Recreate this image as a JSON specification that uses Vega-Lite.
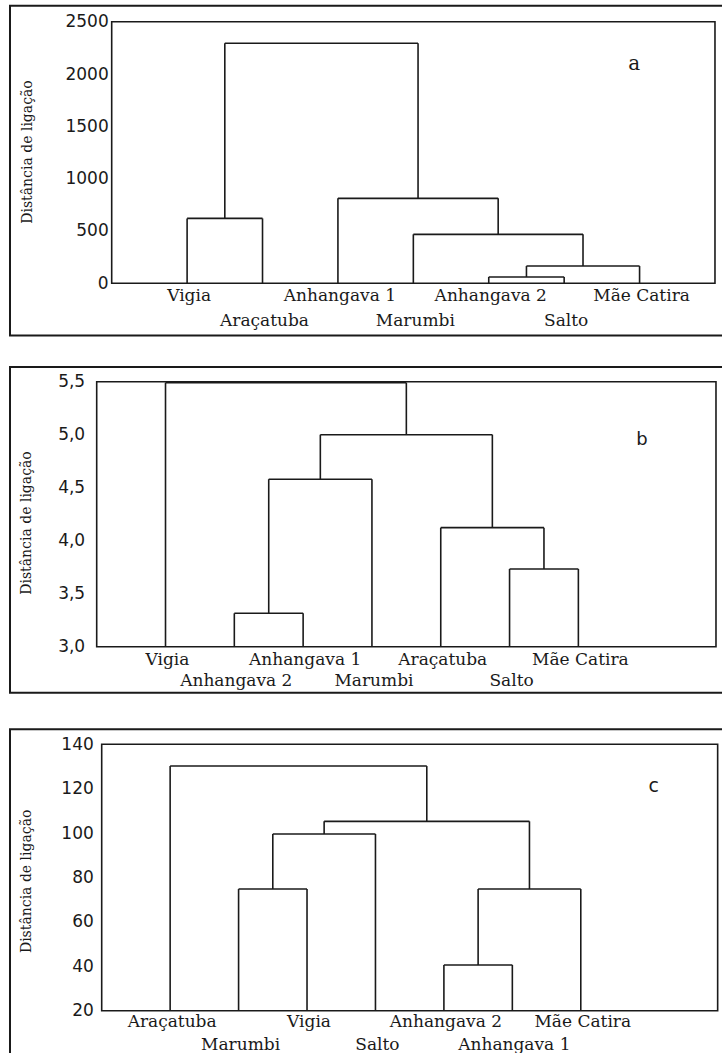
{
  "$schema": "https://vega.github.io/schema/vega-lite/v6.json",
  "background": "white",
  "padding": {"left": 8, "top": 4, "right": 0, "bottom": 0},
  "config": {"view": {"stroke": null}, "text": {"color": "#1a1a1a"}},
  "datasets": {
    "a_merges": [
      {"left": 1, "right": 2, "hl": 0, "hr": 0, "h": 620},
      {"left": 5, "right": 6, "hl": 0, "hr": 0, "h": 60},
      {"left": 5.5, "right": 7, "hl": 60, "hr": 0, "h": 165},
      {"left": 4, "right": 6.25, "hl": 0, "hr": 165, "h": 468},
      {"left": 3, "right": 5.125, "hl": 0, "hr": 468, "h": 812},
      {"left": 1.5, "right": 4.0625, "hl": 620, "hr": 812, "h": 2294}
    ],
    "a_leaves": [
      {"pos": 1, "name": "Vigia"}, {"pos": 2, "name": "Araçatuba"}, {"pos": 3, "name": "Anhangava 1"},
      {"pos": 4, "name": "Marumbi"}, {"pos": 5, "name": "Anhangava 2"}, {"pos": 6, "name": "Salto"},
      {"pos": 7, "name": "Mãe Catira"}
    ],
    "b_merges": [
      {"left": 2, "right": 3, "hl": 3, "hr": 3, "h": 3.315},
      {"left": 2.5, "right": 4, "hl": 3.315, "hr": 3, "h": 4.58},
      {"left": 6, "right": 7, "hl": 3, "hr": 3, "h": 3.733},
      {"left": 5, "right": 6.5, "hl": 3, "hr": 3.733, "h": 4.123},
      {"left": 3.25, "right": 5.75, "hl": 4.58, "hr": 4.123, "h": 5.0},
      {"left": 1, "right": 4.5, "hl": 3, "hr": 5.0, "h": 5.49}
    ],
    "b_leaves": [
      {"pos": 1, "name": "Vigia"}, {"pos": 2, "name": "Anhangava 2"}, {"pos": 3, "name": "Anhangava 1"},
      {"pos": 4, "name": "Marumbi"}, {"pos": 5, "name": "Araçatuba"}, {"pos": 6, "name": "Salto"},
      {"pos": 7, "name": "Mãe Catira"}
    ],
    "c_merges": [
      {"left": 2, "right": 3, "hl": 20, "hr": 20, "h": 74.8},
      {"left": 2.5, "right": 4, "hl": 74.8, "hr": 20, "h": 99.6},
      {"left": 5, "right": 6, "hl": 20, "hr": 20, "h": 40.6},
      {"left": 5.5, "right": 7, "hl": 40.6, "hr": 20, "h": 74.8},
      {"left": 3.25, "right": 6.25, "hl": 99.6, "hr": 74.8, "h": 105.3},
      {"left": 1, "right": 4.75, "hl": 20, "hr": 105.3, "h": 130.2}
    ],
    "c_leaves": [
      {"pos": 1, "name": "Araçatuba"}, {"pos": 2, "name": "Marumbi"}, {"pos": 3, "name": "Vigia"},
      {"pos": 4, "name": "Salto"}, {"pos": 5, "name": "Anhangava 2"}, {"pos": 6, "name": "Anhangava 1"},
      {"pos": 7, "name": "Mãe Catira"}
    ]
  },
  "vconcat": [
    {
      "spacing": 27,
      "vconcat": [
        {
          "width": 714, "height": 334,
          "resolve": {"axis": {"y": "independent", "x": "independent"}},
          "layer": [
            {"data": {"values": [{}]},
             "mark": {"type": "rect", "fill": null, "stroke": "#1a1a1a", "strokeWidth": 2, "clip": true},
             "encoding": {
               "x": {"datum": -1.3486, "type": "quantitative", "scale": {"domain": [-1.3751, 8.0931], "nice": false, "zero": false}, "axis": null},
               "x2": {"datum": 9},
               "y": {"datum": 2652.9, "type": "quantitative", "scale": {"domain": [-522.75, 2669.15], "nice": false, "zero": false},
                     "axis": {"orient": "left", "values": [0, 500, 1000, 1500, 2000, 2500], "format": "d", "offset": -103.7, "domain": false, "ticks": false, "tickSize": 0, "grid": false,
                              "labelPadding": 3.5, "labelFont": "DejaVu Sans", "labelFontSize": 17, "labelColor": "#1a1a1a", "labelOverlap": false, "labelFlush": false,
                              "title": "Distância de ligação", "titleFont": "DejaVu Serif", "titleFontSize": 14, "titleFontWeight": "normal", "titleColor": "#1a1a1a",
                              "titleAngle": -90, "titleX": -84.7, "titleY": 147.5, "titleAlign": "center", "titleBaseline": "middle", "zindex": 1}},
               "y2": {"datum": -498.9}
             }},
            {"data": {"values": [{}]},
             "mark": {"type": "rect", "fill": null, "stroke": "#1a1a1a", "strokeWidth": 1.6},
             "encoding": {
               "x": {"datum": 0, "type": "quantitative", "axis": null},
               "x2": {"datum": 8},
               "y": {"datum": 0, "type": "quantitative", "axis": null},
               "y2": {"datum": 2500}
             }},
            {"data": {"name": "a_merges"},
             "mark": {"type": "rule", "stroke": "#1a1a1a", "strokeWidth": 1.6},
             "encoding": {"x": {"field": "left", "type": "quantitative", "axis": null}, "x2": {"field": "right"}, "y": {"field": "h", "type": "quantitative", "axis": null}}},
            {"data": {"name": "a_merges"},
             "mark": {"type": "rule", "stroke": "#1a1a1a", "strokeWidth": 1.6},
             "encoding": {"x": {"field": "left", "type": "quantitative", "axis": null}, "y": {"field": "hl", "type": "quantitative", "axis": null}, "y2": {"field": "h"}}},
            {"data": {"name": "a_merges"},
             "mark": {"type": "rule", "stroke": "#1a1a1a", "strokeWidth": 1.6},
             "encoding": {"x": {"field": "right", "type": "quantitative", "axis": null}, "y": {"field": "hr", "type": "quantitative", "axis": null}, "y2": {"field": "h"}}},
            {"data": {"name": "a_leaves"}, "transform": [{"filter": "datum.pos % 2 == 1"}],
             "mark": {"type": "text", "font": "DejaVu Serif", "fontSize": 17, "align": "center", "baseline": "alphabetic", "dy": 17.5, "dx": 2},
             "encoding": {"x": {"field": "pos", "type": "quantitative", "axis": null}, "y": {"datum": 0, "type": "quantitative", "axis": null}, "text": {"field": "name"}}},
            {"data": {"name": "a_leaves"}, "transform": [{"filter": "datum.pos % 2 == 0"}],
             "mark": {"type": "text", "font": "DejaVu Serif", "fontSize": 17, "align": "center", "baseline": "alphabetic", "dy": 42.5, "dx": 2},
             "encoding": {"x": {"field": "pos", "type": "quantitative", "axis": null}, "y": {"datum": 0, "type": "quantitative", "axis": null}, "text": {"field": "name"}}},
            {"data": {"values": [{"label": "a"}]},
             "mark": {"type": "text", "font": "DejaVu Serif", "fontSize": 20, "align": "center", "baseline": "alphabetic"},
             "encoding": {"x": {"datum": 6.93, "type": "quantitative", "axis": null}, "y": {"datum": 2038, "type": "quantitative", "axis": null}, "text": {"field": "label"}}}
          ]
        },
        {
          "width": 714, "height": 330,
          "resolve": {"axis": {"y": "independent", "x": "independent"}},
          "layer": [
            {"data": {"values": [{}]},
             "mark": {"type": "rect", "fill": null, "stroke": "#1a1a1a", "strokeWidth": 2, "clip": true},
             "encoding": {
               "x": {"datum": -1.26, "type": "quantitative", "scale": {"domain": [-1.2891, 9.0874], "nice": false, "zero": false}, "axis": null},
               "x2": {"datum": 10},
               "y": {"datum": 5.6387, "type": "quantitative", "scale": {"domain": [2.5443, 5.6575], "nice": false, "zero": false},
                     "axis": {"orient": "left", "values": [3, 3.5, 4, 4.5, 5, 5.5], "labelExpr": "replace(format(datum.value, '.1f'), '.', ',')", "offset": -88.7, "domain": false, "ticks": false, "tickSize": 0, "grid": false,
                              "labelPadding": 12, "labelFont": "DejaVu Sans", "labelFontSize": 17, "labelColor": "#1a1a1a", "labelOverlap": false, "labelFlush": false,
                              "title": "Distância de ligação", "titleFont": "DejaVu Serif", "titleFontSize": 14, "titleFontWeight": "normal", "titleColor": "#1a1a1a",
                              "titleAngle": -90, "titleX": -70.2, "titleY": 157.5, "titleAlign": "center", "titleBaseline": "middle", "zindex": 1}},
               "y2": {"datum": 2.566}
             }},
            {"data": {"values": [{}]},
             "mark": {"type": "rect", "fill": null, "stroke": "#1a1a1a", "strokeWidth": 1.6},
             "encoding": {
               "x": {"datum": 0, "type": "quantitative", "axis": null},
               "x2": {"datum": 9},
               "y": {"datum": 3, "type": "quantitative", "axis": null},
               "y2": {"datum": 5.5}
             }},
            {"data": {"name": "b_merges"},
             "mark": {"type": "rule", "stroke": "#1a1a1a", "strokeWidth": 1.6},
             "encoding": {"x": {"field": "left", "type": "quantitative", "axis": null}, "x2": {"field": "right"}, "y": {"field": "h", "type": "quantitative", "axis": null}}},
            {"data": {"name": "b_merges"},
             "mark": {"type": "rule", "stroke": "#1a1a1a", "strokeWidth": 1.6},
             "encoding": {"x": {"field": "left", "type": "quantitative", "axis": null}, "y": {"field": "hl", "type": "quantitative", "axis": null}, "y2": {"field": "h"}}},
            {"data": {"name": "b_merges"},
             "mark": {"type": "rule", "stroke": "#1a1a1a", "strokeWidth": 1.6},
             "encoding": {"x": {"field": "right", "type": "quantitative", "axis": null}, "y": {"field": "hr", "type": "quantitative", "axis": null}, "y2": {"field": "h"}}},
            {"data": {"name": "b_leaves"}, "transform": [{"filter": "datum.pos % 2 == 1"}],
             "mark": {"type": "text", "font": "DejaVu Serif", "fontSize": 17, "align": "center", "baseline": "alphabetic", "dy": 18, "dx": 2},
             "encoding": {"x": {"field": "pos", "type": "quantitative", "axis": null}, "y": {"datum": 3, "type": "quantitative", "axis": null}, "text": {"field": "name"}}},
            {"data": {"name": "b_leaves"}, "transform": [{"filter": "datum.pos % 2 == 0"}],
             "mark": {"type": "text", "font": "DejaVu Serif", "fontSize": 17, "align": "center", "baseline": "alphabetic", "dy": 39.5, "dx": 2},
             "encoding": {"x": {"field": "pos", "type": "quantitative", "axis": null}, "y": {"datum": 3, "type": "quantitative", "axis": null}, "text": {"field": "name"}}},
            {"data": {"values": [{"label": "b"}]},
             "mark": {"type": "text", "font": "DejaVu Sans", "fontSize": 18, "align": "center", "baseline": "alphabetic"},
             "encoding": {"x": {"datum": 7.925, "type": "quantitative", "axis": null}, "y": {"datum": 4.903, "type": "quantitative", "axis": null}, "text": {"field": "label"}}}
          ]
        }
      ]
    },
    {
      "width": 714, "height": 326,
      "resolve": {"axis": {"y": "independent", "x": "independent"}},
      "layer": [
        {"data": {"values": [{}]},
         "mark": {"type": "rect", "fill": null, "stroke": "#1a1a1a", "strokeWidth": 2, "clip": true},
         "encoding": {
           "x": {"datum": -1.3399, "type": "quantitative", "scale": {"domain": [-1.3691, 9.0634], "nice": false, "zero": false}, "axis": null},
           "x2": {"datum": 10},
           "y": {"datum": 146.757, "type": "quantitative", "scale": {"domain": [0.946, 147.793], "nice": false, "zero": false},
                 "axis": {"orient": "left", "values": [20, 40, 60, 80, 100, 120, 140], "format": "d", "offset": -93.7, "domain": false, "ticks": false, "tickSize": 0, "grid": false,
                          "labelPadding": 8.4, "labelFont": "DejaVu Sans", "labelFontSize": 17, "labelColor": "#1a1a1a", "labelOverlap": false, "labelFlush": false,
                          "title": "Distância de ligação", "titleFont": "DejaVu Serif", "titleFontSize": 14, "titleFontWeight": "normal", "titleColor": "#1a1a1a",
                          "titleAngle": -90, "titleX": -75.7, "titleY": 153.8, "titleAlign": "center", "titleBaseline": "middle", "zindex": 1}},
           "y2": {"datum": -20}
         }},
        {"data": {"values": [{}]},
         "mark": {"type": "rect", "fill": null, "stroke": "#1a1a1a", "strokeWidth": 1.6},
         "encoding": {
           "x": {"datum": 0, "type": "quantitative", "axis": null},
           "x2": {"datum": 9},
           "y": {"datum": 20, "type": "quantitative", "axis": null},
           "y2": {"datum": 140}
         }},
        {"data": {"name": "c_merges"},
         "mark": {"type": "rule", "stroke": "#1a1a1a", "strokeWidth": 1.6},
         "encoding": {"x": {"field": "left", "type": "quantitative", "axis": null}, "x2": {"field": "right"}, "y": {"field": "h", "type": "quantitative", "axis": null}}},
        {"data": {"name": "c_merges"},
         "mark": {"type": "rule", "stroke": "#1a1a1a", "strokeWidth": 1.6},
         "encoding": {"x": {"field": "left", "type": "quantitative", "axis": null}, "y": {"field": "hl", "type": "quantitative", "axis": null}, "y2": {"field": "h"}}},
        {"data": {"name": "c_merges"},
         "mark": {"type": "rule", "stroke": "#1a1a1a", "strokeWidth": 1.6},
         "encoding": {"x": {"field": "right", "type": "quantitative", "axis": null}, "y": {"field": "hr", "type": "quantitative", "axis": null}, "y2": {"field": "h"}}},
        {"data": {"name": "c_leaves"}, "transform": [{"filter": "datum.pos % 2 == 1"}],
         "mark": {"type": "text", "font": "DejaVu Serif", "fontSize": 17, "align": "center", "baseline": "alphabetic", "dy": 16.5, "dx": 2},
         "encoding": {"x": {"field": "pos", "type": "quantitative", "axis": null}, "y": {"datum": 20, "type": "quantitative", "axis": null}, "text": {"field": "name"}}},
        {"data": {"name": "c_leaves"}, "transform": [{"filter": "datum.pos % 2 == 0"}],
         "mark": {"type": "text", "font": "DejaVu Serif", "fontSize": 17, "align": "center", "baseline": "alphabetic", "dy": 39, "dx": 2},
         "encoding": {"x": {"field": "pos", "type": "quantitative", "axis": null}, "y": {"datum": 20, "type": "quantitative", "axis": null}, "text": {"field": "name"}}},
        {"data": {"values": [{"label": "c"}]},
         "mark": {"type": "text", "font": "DejaVu Sans", "fontSize": 19, "align": "center", "baseline": "alphabetic"},
         "encoding": {"x": {"datum": 8.066, "type": "quantitative", "axis": null}, "y": {"datum": 118.65, "type": "quantitative", "axis": null}, "text": {"field": "label"}}}
      ]
    }
  ],
  "spacing": 32
}
